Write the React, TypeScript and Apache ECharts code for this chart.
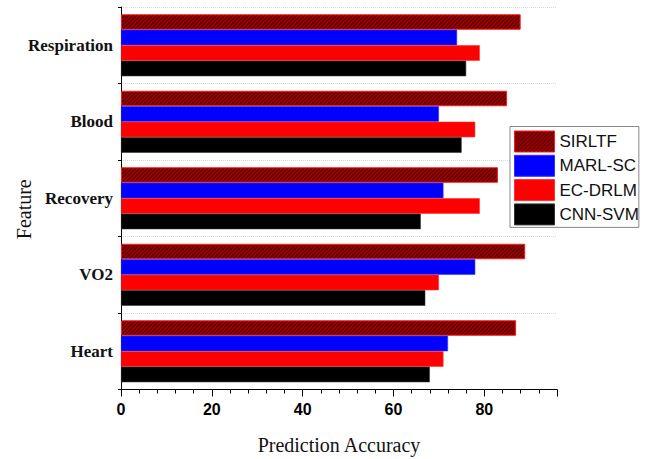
import React, { useEffect, useRef } from "react";
import * as echarts from "echarts";

const categories = ["Heart", "VO2", "Recovery", "Blood", "Respiration"];
const sirltf = [87, 89, 83, 85, 88];
const marlSc = [72, 78, 71, 70, 74];
const ecDrlms = [71, 70, 79, 78, 79];
const cnnSvm = [68, 67, 66, 75, 76];
const legendOrder = ["SIRLTF", "MARL-SC", "EC-DRLMS", "CNN-SVM"];

function makeHatch(): HTMLCanvasElement {
  const c = document.createElement("canvas");
  c.width = 4;
  c.height = 4;
  const ctx = c.getContext("2d")!;
  ctx.fillStyle = "#a00000";
  ctx.fillRect(0, 0, 4, 4);
  ctx.strokeStyle = "#4a0000";
  ctx.lineWidth = 1.1;
  ctx.beginPath();
  ctx.moveTo(0, 4);
  ctx.lineTo(4, 0);
  ctx.moveTo(-1, 1);
  ctx.lineTo(1, -1);
  ctx.moveTo(3, 5);
  ctx.lineTo(5, 3);
  ctx.stroke();
  return c;
}

export default function App() {
  const ref = useRef<HTMLDivElement>(null);
  useEffect(() => {
    if (!ref.current) return;
    const chart = echarts.init(ref.current, undefined, { renderer: "svg" });
    const hatch = makeHatch();
    const barCommon = {
      type: "bar" as const,
      barGap: "0%",
      barCategoryGap: "19%",
    };
    chart.setOption({
      animation: false,
      backgroundColor: "#ffffff",
      grid: {
        left: 121,
        right: 105,
        top: 7,
        bottom: 69.5,
        containLabel: false,
        outerBoundsMode: "none",
      },
      legend: {
        data: legendOrder,
        orient: "vertical",
        left: 510,
        top: 126.5,
        icon: "rect",
        itemWidth: 40,
        itemHeight: 21,
        itemGap: 2.3,
        padding: [4, 0, 2, 4],
        borderColor: "#888888",
        borderWidth: 1,
        backgroundColor: "#ffffff",
        textStyle: {
          fontFamily: "Liberation Sans",
          fontSize: 17,
          color: "#111111",
          width: 87,
          overflow: "truncate",
          ellipsis: "",
          padding: [0, 0, 0, 0],
        },
        itemStyle: { borderWidth: 1 },
      },
      xAxis: {
        type: "value",
        min: 0,
        max: 96,
        interval: 20,
        name: "Prediction Accuracy",
        nameLocation: "middle",
        nameGap: 45,
        nameMoveOverlap: false,
        nameTextStyle: { fontFamily: "Liberation Serif", fontSize: 20, color: "#111111" },
        axisLine: { show: true, lineStyle: { color: "#000000", width: 1 } },
        axisTick: { show: true, length: 7, lineStyle: { color: "#000000" } },
        minorTick: { show: true, splitNumber: 5, length: 4, lineStyle: { color: "#000000" } },
        splitLine: { show: false },
        axisLabel: {
          showMaxLabel: false,
          margin: 12,
          fontFamily: "Liberation Sans",
          fontWeight: "bold",
          fontSize: 16,
          color: "#000000",
        },
      },
      yAxis: {
        type: "category",
        data: categories,
        name: "Feature",
        nameLocation: "middle",
        nameGap: 87,
        nameMoveOverlap: false,
        nameTextStyle: {
          fontFamily: "Liberation Serif",
          fontSize: 20,
          color: "#111111",
          padding: [0, 22, 0, 0],
        },
        axisLine: { show: true, lineStyle: { color: "#000000", width: 1 } },
        axisTick: { show: true, length: 3, lineStyle: { color: "#000000" } },
        splitLine: { show: true, lineStyle: { type: "dotted", color: "#d8d8d8", width: 1 } },
        axisLabel: {
          margin: 8,
          fontFamily: "Liberation Serif",
          fontWeight: "bold",
          fontSize: 17,
          color: "#111111",
        },
      },
      series: [
        {
          ...barCommon,
          name: "SIRLTF",
          data: sirltf,
          itemStyle: {
            color: { image: hatch, repeat: "repeat" },
            borderColor: "#ff1a1a",
            borderWidth: 1,
          },
        },
        {
          ...barCommon,
          name: "MARL-SC",
          data: marlSc,
          itemStyle: { color: "#0000ff", borderColor: "#3030ff", borderWidth: 0.6 },
        },
        {
          ...barCommon,
          name: "EC-DRLMS",
          data: ecDrlms,
          itemStyle: { color: "#ff0000", borderColor: "#ff3030", borderWidth: 0.6 },
        },
        {
          ...barCommon,
          name: "CNN-SVM",
          data: cnnSvm,
          itemStyle: { color: "#000000", borderColor: "#333333", borderWidth: 0.6 },
        },
      ],
    });
    return () => chart.dispose();
  }, []);
  return (
    <div
      ref={ref}
      style={{ position: "absolute", left: 0, top: 0, width: 662, height: 459 }}
    />
  );
}
